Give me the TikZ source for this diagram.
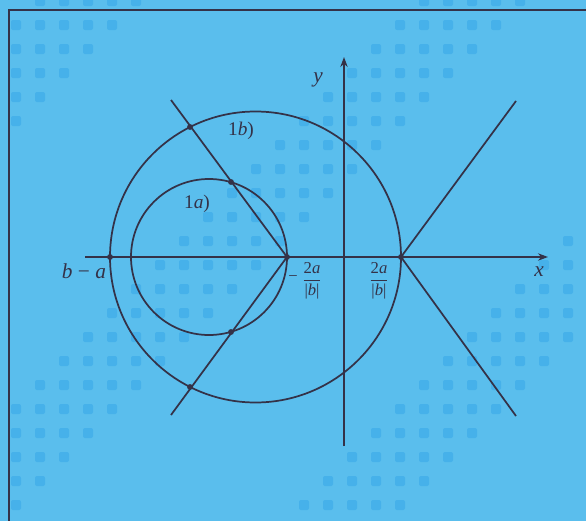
\documentclass[tikz,border=0pt]{standalone}
\usepackage{amsmath}
\usepackage{fontspec}
\setmainfont{Liberation Serif}
\usetikzlibrary{arrows.meta}
\definecolor{bgblue}{RGB}{90,190,237}
\definecolor{sqblue}{RGB}{70,177,234}
\definecolor{ink}{RGB}{52,50,72}
\begin{document}
\begin{tikzpicture}[x=0.75pt,y=-0.75pt,
  curve/.style={draw=ink,line width=1.3pt},
  axis/.style={draw=ink,line width=1.2pt,-{Stealth[length=7.5pt,width=5.5pt]}},
  dot/.style={fill=ink},
  lab/.style={text=ink,inner sep=0pt,font=\fontsize{16}{18}\selectfont},
  clab/.style={text=ink,inner sep=0pt,font=\fontsize{14.5}{16}\selectfont},
  flab/.style={text=ink,inner sep=0pt,font=\fontsize{12.5}{14}\selectfont},
  sq/.style={fill=sqblue,rounded corners=1.5pt}]
\useasboundingbox (0,0) rectangle (586,521);
\fill[bgblue] (0,0) rectangle (586,521);
% background halftone squares
\foreach \i in {0,...,24}{
  \foreach \j in {-1,...,21}{
    \pgfmathtruncatemacro{\s}{\i+\j}
    \pgfmathtruncatemacro{\m}{mod(\s+16,16)}
    \ifnum\s>-1 \ifnum\m<5
      \fill[sq] ({16+24*\i-5},{25+24*\j-5}) rectangle ++(10,10);
    \fi\fi
  }}
% frame
\draw[ink,line width=1.8pt] (9,521) -- (9,10) -- (586,10);
% coordinates
\coordinate (xs) at (85,257);
\coordinate (xe) at (548,257);
\coordinate (ys) at (344,446);
\coordinate (ye) at (344,57);
\coordinate (A) at (287,257);
\coordinate (B) at (401,257);
\coordinate (L) at (110,257);
\coordinate (c1) at (209,257);
\coordinate (c2) at (255.5,257);
\coordinate (P1) at (190,127);
\coordinate (P2) at (231,182);
\coordinate (P3) at (190,387);
\coordinate (P4) at (231,332);
\coordinate (E1) at (171,100);
\coordinate (E2) at (171,415);
\coordinate (E3) at (516,101);
\coordinate (E4) at (516,416);
% circles
\draw[curve] (c1) circle[radius=58.5pt];
\draw[curve] (c2) circle[radius=109.125pt];
% axes
\draw[axis] (xs) -- (xe);
\draw[axis] (ys) -- (ye);
% lines
\draw[curve] (A) -- (E1);
\draw[curve] (A) -- (E2);
\draw[curve] (B) -- (E3);
\draw[curve] (B) -- (E4);
% dots
\foreach \p in {A,B,L,P1,P2,P3,P4}{\fill[dot] (\p) circle[radius=2.2pt];}
% labels
\node[lab] (ylab) at (318,80) {\textit{y}};
\node[lab] (xlab) at (539,272) {\textit{x}};
\node[lab] (balab) at (84,271) {\textit{b} − \textit{a}};
\node[clab] (l1b) at (241,131) {1\textit{b})};
\node[clab] (l1a) at (197,204) {1\textit{a})};
\node[flab] (mn) at (293,279) {−};
\node[flab] (fr1) at (312,281) {$\dfrac{\textup{2}\textit{a}}{\textup{|}\textit{b}\textup{|}}$};
\node[flab] (fr2) at (379,281) {$\dfrac{\textup{2}\textit{a}}{\textup{|}\textit{b}\textup{|}}$};
\end{tikzpicture}
\end{document}
